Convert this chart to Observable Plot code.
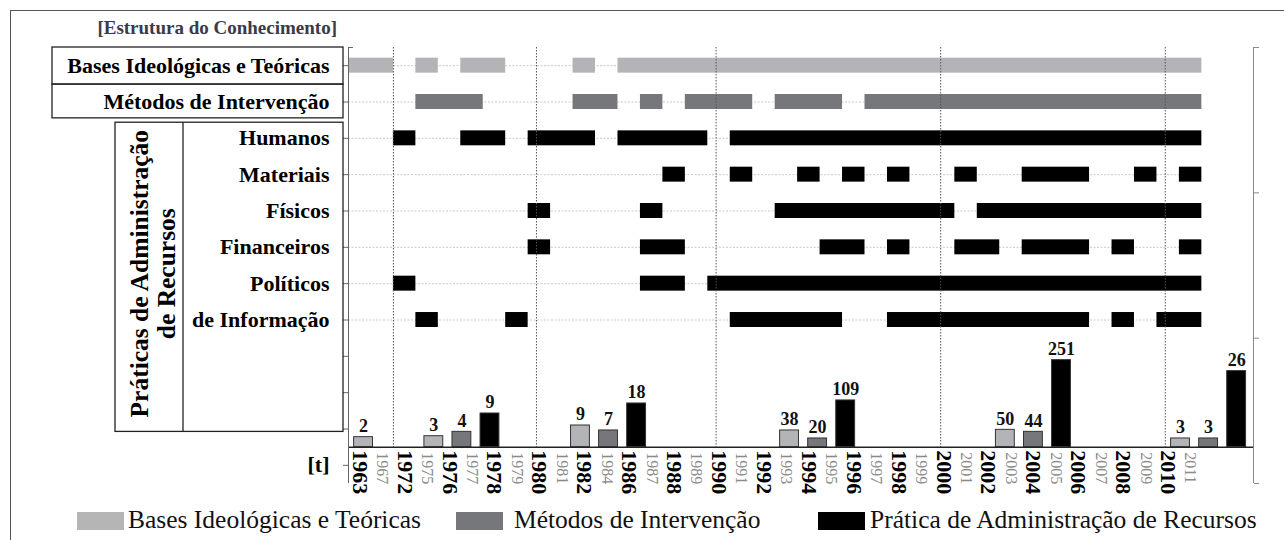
<!DOCTYPE html>
<html><head><meta charset="utf-8">
<script src="https://cdn.jsdelivr.net/npm/d3@7"></script>
<script src="https://cdn.jsdelivr.net/npm/@observablehq/plot@0.6"></script>
<style>
body{margin:0;background:#fff;font-family:"Liberation Serif","DejaVu Serif","Times New Roman",serif;}
#wrap{position:relative;width:1284px;height:540px;overflow:hidden;}
#border{position:absolute;left:10px;top:10px;width:1290px;height:600px;border:1px solid #555;box-sizing:border-box;}
#chart{position:absolute;left:0;top:0;}
#legend{position:absolute;left:0;top:500px;width:1284px;height:40px;}
.sw{position:absolute;top:12px;height:18px;width:47px;}
.lt{position:absolute;top:6px;font-size:25.5px;line-height:28px;color:#111;white-space:nowrap;}
</style></head><body>
<div id="wrap"><div id="border"></div><div id="chart"></div><div id="legend"></div></div>
<script>
// ---------- data ----------
const categorias = ["1963","1967","1972","1975","1976","1977","1978","1979","1980","1981","1982","1984","1986","1987","1988","1989","1990","1991","1992","1993","1994","1995","1996","1997","1998","1999","2000","2001","2002","2003","2004","2005","2006","2007","2008","2009","2010","2011"];
const linhas = ["Bases Ideológicas e Teóricas","Métodos de Intervenção","Humanos","Materiais","Físicos","Financeiros","Políticos","de Informação"];
const rotuloTempo = "[t]";
const series = ["Bases Ideológicas e Teóricas","Métodos de Intervenção","Prática de Administração de Recursos"];
const tituloEstrutura = "[Estrutura do Conhecimento]";
const tituloGrupo = ["Práticas de Administração","de Recursos"];

// Gantt periods: [first year, last year] (inclusive)
const periodosBases = [["1963","1967"],["1975","1975"],["1977","1978"],["1982","1982"],["1986","2011"]];
const periodosMetodos = [["1975","1977"],["1982","1984"],["1987","1987"],["1989","1991"],["1993","1995"],["1997","2011"]];
const periodosHumanos = [["1972","1972"],["1977","1978"],["1980","1982"],["1986","1989"],["1991","2011"]];
const periodosMateriais = [["1988","1988"],["1991","1991"],["1994","1994"],["1996","1996"],["1998","1998"],["2001","2001"],["2004","2006"],["2009","2009"],["2011","2011"]];
const periodosFisicos = [["1980","1980"],["1987","1987"],["1993","2000"],["2002","2011"]];
const periodosFinanceiros = [["1980","1980"],["1987","1988"],["1995","1996"],["1998","1998"],["2001","2002"],["2004","2006"],["2008","2008"],["2011","2011"]];
const periodosPoliticos = [["1972","1972"],["1987","1988"],["1990","2011"]];
const periodosInformacao = [["1975","1975"],["1979","1979"],["1991","1995"],["1998","2006"],["2008","2008"],["2010","2011"]];

// decade dividers
const divisoes = ["1972","1980","1990","2000","2010"];

// bar chart per period
const decadas = ["1963–1971","1972–1979","1980–1989","1990–1999","2000–2009","2010–2011"];
const totBases    = [2, 3, 9, 38, 50, 3];
const totMetodos  = [null, 4, 7, 20, 44, 3];
const totPraticas = [null, 9, 18, 109, 251, 26];
// drawn bar heights, % of the tallest bar
const alturaBases    = [11.5, 12.6, 24.9, 19.2, 19.9, 10];
const alturaMetodos  = [null, 17.6, 19.2, 10, 17.6, 10];
const alturaPraticas = [null, 38.7, 50.2, 53.7, 100, 87.4];
// x (time-axis units) of each cluster's middle bar
const centroDecada = [1.92, 5.05, 11.58, 20.89, 30.5, 38.3];

// ---------- layout / style ----------
const SERIF = "Liberation Serif, DejaVu Serif, Times New Roman, serif";
const cores = ["#b3b4b7", "#76777b", "#000000"];
const X_MAX = 40.3, ROW_BASE = 10.5, BAR_MAX_ROWS = 2.395, HALF = 0.206, OFF = 1.25, BW = 0.42;
const idx = a => categorias.indexOf(a);

const listas = [periodosBases, periodosMetodos, periodosHumanos, periodosMateriais, periodosFisicos, periodosFinanceiros, periodosPoliticos, periodosInformacao];
const gantt = listas.flatMap((lst, row) => lst.map(([a, b]) => ({row, x1: idx(a), x2: idx(b) + 1, serie: series[Math.min(row, 2)]})));

const barras = [];
decadas.forEach((d, i) => {
  [[totBases, alturaBases], [totMetodos, alturaMetodos], [totPraticas, alturaPraticas]].forEach(([tot, alt], k) => {
    if (tot[i] != null) barras.push({decada: d, serie: series[k], valor: tot[i], altura: alt[i], x: centroDecada[i] + (k - 1) * OFF});
  });
});
const anos = categorias.map((ano, i) => ({ano, i}));
const rotulosY = [...linhas, "", "", "", rotuloTempo];

function decor(index, scales) {
  const y = (scales && typeof scales.y === "function") ? scales.y : d3.scaleLinear([11.5, -0.5], [483, 47]);
  const g = d3.create("svg:g").attr("font-family", SERIF).attr("font-weight", "bold");
  g.append("text").attr("x", 337).attr("y", 34).attr("text-anchor", "end").attr("font-size", 19).attr("fill", "#3a3a4a").text(tituloEstrutura);
  const box = (x0, x1, r0, r1) => g.append("rect").attr("x", x0).attr("y", y(r0)).attr("width", x1 - x0).attr("height", y(r1) - y(r0))
    .attr("fill", "none").attr("stroke", "#222").attr("stroke-width", 1.3);
  box(52, 343, -0.5, 0.52);
  box(52, 343, 0.52, 1.45);
  box(115, 343, 1.57, 10.08);
  g.append("line").attr("x1", 183).attr("x2", 183).attr("y1", y(1.57)).attr("y2", y(10.08)).attr("stroke", "#222").attr("stroke-width", 1.3);
  const cy = y(5.74);
  [[139, tituloGrupo[0]], [166, tituloGrupo[1]]].forEach(([x, t]) => {
    g.append("text").attr("transform", `translate(${x},${cy}) rotate(-90)`).attr("text-anchor", "middle")
      .attr("dominant-baseline", "central").attr("font-size", 25.5).attr("fill", "#000").text(t);
  });
  return g.node();
}

const chart = Plot.plot({
  width: 1284, height: 500,
  marginLeft: 348, marginRight: 31, marginTop: 47, marginBottom: 17,
  x: {domain: [0, X_MAX], axis: null},
  y: {domain: [11.5, -0.5], axis: null},
  color: {domain: series, range: cores},
  style: {fontFamily: SERIF, background: "transparent", overflow: "visible"},
  marks: [
    Plot.ruleY(d3.range(linhas.length), {x1: 0, x2: categorias.length, stroke: "#c9c9c9", strokeDasharray: "2,1.5"}),
    Plot.rect(gantt, {x1: "x1", x2: "x2", y1: d => d.row - HALF, y2: d => d.row + HALF, fill: "serie"}),
    Plot.ruleX(divisoes, {x: d => idx(d) + (d === divisoes[0] ? 0 : 0.37), y1: -0.5, y2: ROW_BASE, stroke: "#555", strokeDasharray: "1.5,1.5"}),
    Plot.rect(barras, {x1: d => d.x - BW, x2: d => d.x + BW, y1: ROW_BASE, y2: d => ROW_BASE - d.altura / 100 * BAR_MAX_ROWS, fill: "serie", stroke: "#333", strokeWidth: 1}),
    Plot.text(barras, {x: "x", y: d => ROW_BASE - d.altura / 100 * BAR_MAX_ROWS, text: "valor", lineAnchor: "bottom", dy: -5, fontSize: 18, fontWeight: "bold", fill: "#111"}),
    Plot.ruleY([ROW_BASE], {x1: 0, x2: X_MAX, stroke: "#222", strokeWidth: 1.5}),
    Plot.ruleX([0], {y1: -0.5, y2: 11.5, stroke: "#666"}),
    Plot.ruleY([-0.5], {x1: 0, x2: 0.22, stroke: "#666"}),
    Plot.ruleX([X_MAX], {y1: -0.5, y2: 11.5, stroke: "#888"}),
    Plot.axisY({anchor: "left", ticks: d3.range(12), tickSize: 5, tickPadding: 14, tickFormat: i => rotulosY[i] ?? "", fontSize: 22, fontWeight: "bold", fill: "#000", stroke: "#666"}),
    Plot.axisY({anchor: "right", ticks: [-0.5, 3.5, 7.5, 11.5], tickSize: 5, tickFormat: () => "", stroke: "#888"}),
    Plot.text(anos.filter(d => d.i % 2 === 0), {x: d => d.i + 0.5, y: ROW_BASE, text: "ano", rotate: 90, textAnchor: "start", dy: 3, fontSize: 22, fontWeight: "bold", fill: "#000"}),
    Plot.text(anos.filter(d => d.i % 2 === 1), {x: d => d.i + 0.5, y: ROW_BASE, text: "ano", rotate: 90, textAnchor: "start", dy: 5, fontSize: 16, fill: "#8a8a8a"}),
    decor
  ]
});
document.getElementById("chart").appendChild(chart);

// legend
const leg = document.getElementById("legend");
const legPos = [[77, 128], [456, 514], [818, 870]];
series.forEach((s, i) => {
  const sw = document.createElement("div"); sw.className = "sw"; sw.style.left = legPos[i][0] + "px"; sw.style.background = cores[i] === "#b3b4b7" ? "#b5b5b5" : cores[i];
  const t = document.createElement("div"); t.className = "lt"; t.style.left = legPos[i][1] + "px"; t.textContent = s;
  leg.appendChild(sw); leg.appendChild(t);
});
</script>
</body></html>
